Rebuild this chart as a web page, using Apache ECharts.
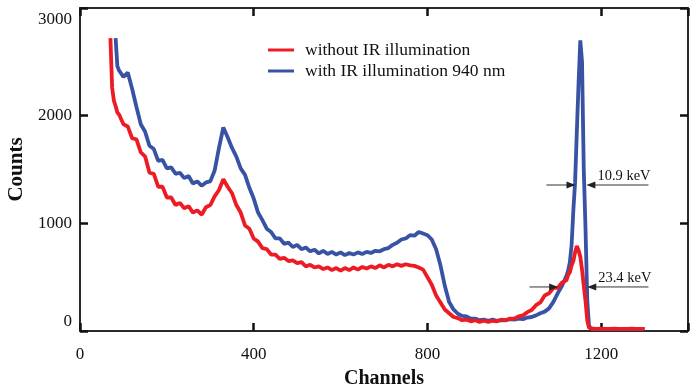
<!DOCTYPE html>
<html><head><meta charset="utf-8">
<script src="https://cdn.jsdelivr.net/npm/echarts@6/dist/echarts.min.js"></script>
<style>html,body{margin:0;padding:0;background:#fff}#c{width:690px;height:389px}</style>
</head><body><div id="c"></div>
<script>
const channels = [70,74,78,82,86,90,
100,110,120,130,140,150,160,170,180,190,
200,210,220,230,240,250,260,270,280,290,
300,310,320,330,340,350,360,370,380,390,
400,410,420,430,440,450,460,470,480,490,
500,510,520,530,540,550,560,570,580,590,
600,610,620,630,640,650,660,670,680,690,
700,710,720,730,740,750,760,770,780,790,
800,810,820,830,840,850,860,870,880,890,
900,910,920,930,940,950,960,970,980,990,
1000,1010,1020,1030,1040,1050,1060,1070,1080,1090,
1100,1110,1120,
1124,1128,1132,1136,1140,1144,1148,1152,1156,1160,1164,1168,1172,1176,1180,
1190,1200,1210,1220,1230,1240,1250,1260,1270,1280,1290,1300];

const countsWithout = [2720,2260,2140,2090,2030,2010,
1920,1900,1790,1780,1660,1620,1470,1460,1340,1340,
1240,1240,1170,1190,1140,1160,1100,1120,1080,1150,
1170,1250,1310,1410,1340,1280,1170,1100,980,950,
860,830,770,760,710,710,670,680,650,655,
630,640,600,615,590,600,575,590,565,585,
560,585,565,590,570,595,580,600,585,610,
590,615,600,620,605,620,610,605,590,570,
500,430,330,265,200,165,130,120,100,105,
90,100,85,95,85,95,90,105,100,115,
115,135,145,175,195,240,265,330,350,400,
400,450,470,
520,545,610,650,730,790,750,690,570,420,280,100,30,20,20,
20,22,20,20,22,20,20,20,22,20,20,20];

const countsWith = [null,null,null,2720,2460,2420,
2360,2400,2250,2080,1920,1850,1720,1690,1580,1590,
1510,1520,1460,1470,1420,1440,1370,1390,1350,1380,
1390,1490,1700,1890,1800,1700,1620,1510,1450,1330,
1230,1100,1030,950,920,860,860,810,820,780,
800,760,775,740,755,720,745,715,735,710,
730,705,725,710,730,715,735,725,745,740,
760,770,800,820,850,860,890,885,920,905,
890,850,760,610,420,270,200,160,140,135,
115,115,100,105,95,105,95,100,100,110,
105,115,110,125,130,145,165,180,210,270,
350,420,510,
560,640,800,1120,1380,1850,2300,2700,2500,1500,950,290,50,25,20,
20,20,20,20,20,20,20,20,20,20,20,20];

const xTicks = [0, 400, 800, 1200];
const yTicks = [0, 1000, 2000, 3000];
const seriesNames = ['without IR illumination', 'with IR illumination 940 nm'];
const annotations = [
  {text: '10.9 keV', y: 1356, leftFrom: 1074, leftTo: 1141, rightFrom: 1309, rightTo: 1166},
  {text: '23.4 keV', y: 409, leftFrom: 1035, leftTo: 1101, rightFrom: 1309, rightTo: 1168}
];

const FONT = 'Liberation Serif';
const toPairs = (arr) => channels.map((c, i) => [c, arr[i]]).filter(p => p[1] !== null);

const chart = echarts.init(document.getElementById('c'), null, {renderer: 'canvas'});
const axisLine = {show: true, onZero: false, lineStyle: {color: '#2a2a2a', width: 2}};
const tick = {show: true, inside: true, length: 8, lineStyle: {color: '#111', width: 2.5}};

chart.setOption({
  animation: false,
  backgroundColor: '#fff',
  grid: {left: 80, right: 2, top: 8, bottom: 58, containLabel: false, outerBoundsMode: 'none'},
  legend: {
    orient: 'vertical', left: 268, top: 41, itemWidth: 26, itemHeight: 3, itemGap: 3,
    icon: 'rect', padding: 0,
    data: seriesNames,
    textStyle: {fontFamily: FONT, fontSize: 17.5, color: '#111', padding: [0, 0, 0, 6]}
  },
  xAxis: [{
    type: 'value', min: 0, max: 1400, interval: 400, position: 'bottom',
    axisLine: axisLine, axisTick: tick, splitLine: {show: false},
    axisLabel: {fontFamily: FONT, fontSize: 17, color: '#111', margin: 15,
      formatter: v => xTicks.indexOf(v) >= 0 ? String(v) : ''},
    name: 'Channels', nameLocation: 'middle', nameGap: 38,
    nameTextStyle: {fontFamily: FONT, fontSize: 20, fontWeight: 'bold', color: '#111'}
  }, {
    type: 'value', min: 0, max: 1400, interval: 400, position: 'top',
    axisLine: axisLine, axisTick: tick, axisLabel: {show: false}, splitLine: {show: false}
  }],
  yAxis: [{
    type: 'value', min: 0, max: 3000, interval: 1000, position: 'left',
    axisLine: axisLine, axisTick: tick, splitLine: {show: false},
    axisLabel: {fontFamily: FONT, fontSize: 17, color: '#111', margin: 8,
      formatter: v => v === 0 ? '{b|0}' : (v === 3000 ? '{t|3000}' : String(v)),
      rich: {
        b: {fontFamily: FONT, fontSize: 17, color: '#111', padding: [0, 0, 18, 0]},
        t: {fontFamily: FONT, fontSize: 17, color: '#111', padding: [24, 0, 0, 0]}
      }},
    name: 'Counts', nameLocation: 'middle', nameGap: 53, nameRotate: 90,
    nameTextStyle: {fontFamily: FONT, fontSize: 21, fontWeight: 'bold', color: '#111'}
  }, {
    type: 'value', min: 0, max: 3000, interval: 1000, position: 'right',
    axisLine: axisLine, axisTick: tick, axisLabel: {show: false}, splitLine: {show: false}
  }],
  series: [{
    name: seriesNames[1], type: 'line', data: toPairs(countsWith), showSymbol: false,
    lineStyle: {width: 3.8, color: '#3953a4'}, itemStyle: {color: '#3953a4'}, z: 2
  }, {
    name: seriesNames[0], type: 'line', data: toPairs(countsWithout), showSymbol: false,
    lineStyle: {width: 3.8, color: '#ed1c24'}, itemStyle: {color: '#ed1c24'}, z: 3
  }]
});

function px(x, y) { return chart.convertToPixel({xAxisIndex: 0, yAxisIndex: 0}, [x, y]); }
const graphics = [];
annotations.forEach(an => {
  const yPix = px(0, an.y)[1];
  const segs = [[an.leftFrom, an.leftTo], [an.rightFrom, an.rightTo]];
  segs.forEach(s => {
    const x1 = px(s[0], an.y)[0], x2 = px(s[1], an.y)[0];
    const dir = x2 > x1 ? 1 : -1;
    graphics.push({type: 'line', shape: {x1: x1, y1: yPix, x2: x2 - dir * 6, y2: yPix},
      style: {stroke: '#333', lineWidth: 1}, z: 10});
    graphics.push({type: 'polygon', shape: {points: [[x2, yPix], [x2 - dir * 9, yPix - 3.5], [x2 - dir * 9, yPix + 3.5]]},
      style: {fill: '#222'}, z: 10});
  });
  const tx = px(an.rightTo, an.y)[0] + 11;
  graphics.push({type: 'text', x: tx, y: yPix - 1,
    style: {text: an.text, fontFamily: FONT, fontSize: 14.5, fill: '#111', verticalAlign: 'bottom'}, z: 10});
});
chart.setOption({graphic: graphics});
</script>
</body></html>
